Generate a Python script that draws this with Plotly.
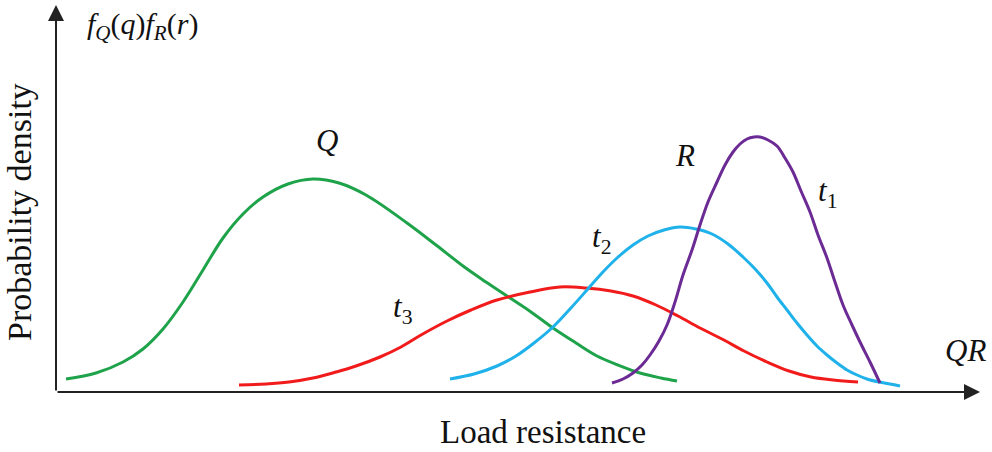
import plotly.graph_objects as go

# Curve samples (x = load/resistance, y = probability density)
q_x = [10, 40, 67, 87, 107, 127, 147, 167, 187, 207, 232, 257, 283, 310, 351, 380, 407, 430,
       451, 475, 497, 520, 541, 562, 584, 605, 621]
q_y = [13, 19, 30, 43, 63, 90, 122, 154, 178, 195, 208, 213, 209, 197, 169, 147, 126, 110,
       96, 80, 64, 49, 36, 27, 19, 14, 11]

t3_x = [183, 210, 233, 257, 280, 300, 324, 345, 365, 391, 415, 441, 474, 504, 530, 555, 577,
        600, 622, 644, 666, 688, 711, 733, 755, 777, 802]
t3_y = [7, 8, 10, 14, 20, 26, 35, 45, 57, 71, 82, 92, 100, 105, 104, 101, 96,
        87, 76, 64, 53, 41, 30, 21, 15, 12, 10]

t2_x = [394, 418, 441, 460, 478, 497, 514, 531, 546, 561, 577, 592, 608, 624, 640, 656, 672,
        687, 700, 711, 721, 731, 741, 751, 761, 771, 781, 791, 801, 811, 823, 834, 844]
t2_y = [13, 18, 26, 36, 49, 65, 83, 102, 119, 134, 147, 156, 162, 165, 163, 158, 148,
        135, 122, 109, 95, 82, 69, 57, 46, 37, 29, 22, 17, 13, 10, 8, 6]

t1_x = [556, 567, 577, 586, 594, 603, 611, 619, 627, 636, 644, 652, 661, 669, 677, 684, 691,
        698, 704, 712, 721, 729, 737, 745, 754, 762, 771, 779, 787, 796, 804, 814, 824]
t1_y = [9, 13, 19, 27, 37, 51, 67, 90, 117, 142, 167, 190, 210, 227, 240, 248, 253,
        255, 255, 252, 246, 234, 220, 201, 180, 157, 134, 110, 87, 67, 50, 30, 9]

x_max = 924
y_max = 387

series = [
    (q_x, q_y, "#1fa34a"),
    (t3_x, t3_y, "#f21b1b"),
    (t2_x, t2_y, "#1fb1ea"),
    (t1_x, t1_y, "#6b2a94"),
]

fig = go.Figure()
for xs, ys, col in series:
    fig.add_trace(go.Scatter(x=xs, y=ys, mode="lines",
                             line=dict(color=col, width=3, shape="spline", smoothing=1.0),
                             hoverinfo="skip", showlegend=False))

serif = "Liberation Serif"

labels = [
    (271, 252, "<i>Q</i>"),
    (629, 237, "<i>R</i>"),
    (771, 199, "<i>t</i><sub>1</sub>"),
    (545, 153, "<i>t</i><sub>2</sub>"),
    (346, 83, "<i>t</i><sub>3</sub>"),
    (909, 42, "<i>QR</i>"),
]
for lx, ly, txt in labels:
    fig.add_annotation(x=lx, y=ly, text=txt, showarrow=False,
                       font=dict(family=serif, size=31, color="#111"))

fig.add_annotation(x=29, y=366, xanchor="left",
                   text="<i>f</i><sub><i>Q</i></sub>(<i>q</i>)<i>f</i><sub><i>R</i></sub>(<i>r</i>)",
                   showarrow=False, font=dict(family=serif, size=30, color="#111"))

# Axis arrows
fig.add_annotation(x=x_max, y=0, ax=0, ay=0, axref="x", ayref="y", xref="x", yref="y",
                   text="", showarrow=True, arrowhead=2, arrowsize=1.6, arrowwidth=2,
                   arrowcolor="#222")
fig.add_annotation(x=0, y=y_max, ax=0, ay=0, axref="x", ayref="y", xref="x", yref="y",
                   text="", showarrow=True, arrowhead=2, arrowsize=1.6, arrowwidth=2,
                   arrowcolor="#222")

# Axis titles
fig.add_annotation(xref="paper", yref="paper", x=(543 - 56) / 924, y=(392 - 432) / 387,
                   xanchor="center", yanchor="middle",
                   text="Load resistance", showarrow=False,
                   font=dict(family=serif, size=33, color="#111"))
fig.add_annotation(xref="paper", yref="paper", x=(19 - 56) / 924, y=(392 - 212) / 387,
                   xanchor="center", yanchor="middle",
                   text="Probability density", showarrow=False, textangle=-90,
                   font=dict(family=serif, size=34, color="#111"))

fig.update_xaxes(range=[0, x_max], showgrid=False, zeroline=False, showticklabels=False,
                 showline=False, ticks="")
fig.update_yaxes(range=[0, y_max], showgrid=False, zeroline=False, showticklabels=False,
                 showline=False, ticks="")
fig.update_layout(width=992, height=452, margin=dict(l=56, r=12, t=5, b=60),
                  plot_bgcolor="white", paper_bgcolor="white",
                  font=dict(family=serif))

fig.write_html("out.html", config={"displayModeBar": False},
               post_script="document.body.style.margin='0';document.body.style.overflow='hidden';")
